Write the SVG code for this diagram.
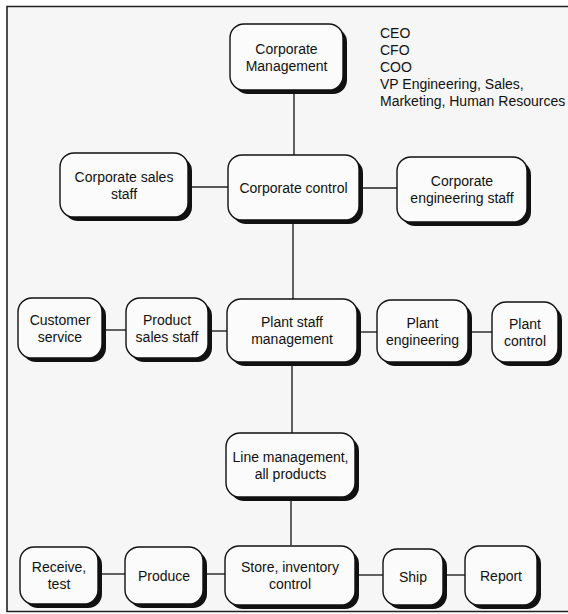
<svg xmlns="http://www.w3.org/2000/svg" width="568" height="614" viewBox="0 0 568 614">
<style>
.bg{fill:#f6f6f6}
.frame{fill:none;stroke:#222;stroke-width:1.6}
.sh{fill:#111}
.box{fill:#fbfbfb;stroke:#111;stroke-width:1.4}
.ln{stroke:#222;stroke-width:1.4;fill:none}
text{font-family:"Liberation Sans",Arial,sans-serif;font-size:14px;fill:#111}
.c{text-anchor:middle}
</style>
<rect x="0" y="0" width="568" height="614" fill="#ffffff"/>
<rect class="bg" x="7" y="6.5" width="561" height="605"/>
<path class="frame" d="M569 6.5 H7 V611.5 H569"/>
<g id="connectors">
<line class="ln" x1="294" y1="90" x2="294" y2="155"/>
<line class="ln" x1="188" y1="187" x2="228" y2="187"/>
<line class="ln" x1="359" y1="188" x2="397" y2="188"/>
<line class="ln" x1="293" y1="220" x2="293" y2="299"/>
<line class="ln" x1="102" y1="330" x2="126" y2="330"/>
<line class="ln" x1="208" y1="331" x2="227" y2="331"/>
<line class="ln" x1="357" y1="332" x2="377" y2="332"/>
<line class="ln" x1="468" y1="332" x2="492" y2="332"/>
<line class="ln" x1="292" y1="362" x2="292" y2="433"/>
<line class="ln" x1="291" y1="497" x2="291" y2="545"/>
<line class="ln" x1="98" y1="574" x2="125" y2="574"/>
<line class="ln" x1="203" y1="574" x2="225" y2="574"/>
<line class="ln" x1="355" y1="575" x2="383" y2="575"/>
<line class="ln" x1="443" y1="575" x2="465" y2="575"/>
</g>
<g id="corporate-management">
<rect class="sh" x="234" y="28" width="113" height="66" rx="14"/>
<rect class="box" x="230" y="24" width="113" height="66" rx="14"/>
<text class="c" x="286.5" y="53.5">Corporate</text>
<text class="c" x="286.5" y="70.5">Management</text>
</g>
<g id="officers">
<text x="380" y="38">CEO</text>
<text x="380" y="55">CFO</text>
<text x="380" y="72">COO</text>
<text x="380" y="89">VP Engineering, Sales,</text>
<text x="380" y="106">Marketing, Human Resources</text>
</g>
<g id="corporate-sales-staff">
<rect class="sh" x="64" y="157" width="128" height="64" rx="14"/>
<rect class="box" x="60" y="153" width="128" height="64" rx="14"/>
<text class="c" x="124" y="181.5">Corporate sales</text>
<text class="c" x="124" y="198.5">staff</text>
</g>
<g id="corporate-control">
<rect class="sh" x="232" y="159" width="131" height="65" rx="14"/>
<rect class="box" x="228" y="155" width="131" height="65" rx="14"/>
<text class="c" x="293.5" y="192.5">Corporate control</text>
</g>
<g id="corporate-engineering-staff">
<rect class="sh" x="401" y="161" width="130" height="65" rx="14"/>
<rect class="box" x="397" y="157" width="130" height="65" rx="14"/>
<text class="c" x="462" y="186">Corporate</text>
<text class="c" x="462" y="203">engineering staff</text>
</g>
<g id="customer-service">
<rect class="sh" x="22" y="302" width="84" height="60" rx="14"/>
<rect class="box" x="18" y="298" width="84" height="60" rx="14"/>
<text class="c" x="60" y="324.5">Customer</text>
<text class="c" x="60" y="341.5">service</text>
</g>
<g id="product-sales-staff">
<rect class="sh" x="130" y="302" width="82" height="60" rx="14"/>
<rect class="box" x="126" y="298" width="82" height="60" rx="14"/>
<text class="c" x="167" y="324.5">Product</text>
<text class="c" x="167" y="341.5">sales staff</text>
</g>
<g id="plant-staff-management">
<rect class="sh" x="231" y="303" width="130" height="63" rx="14"/>
<rect class="box" x="227" y="299" width="130" height="63" rx="14"/>
<text class="c" x="292" y="327">Plant staff</text>
<text class="c" x="292" y="344">management</text>
</g>
<g id="plant-engineering">
<rect class="sh" x="381" y="304" width="91" height="62" rx="14"/>
<rect class="box" x="377" y="300" width="91" height="62" rx="14"/>
<text class="c" x="422.5" y="327.5">Plant</text>
<text class="c" x="422.5" y="344.5">engineering</text>
</g>
<g id="plant-control">
<rect class="sh" x="496" y="306" width="66" height="60" rx="14"/>
<rect class="box" x="492" y="302" width="66" height="60" rx="14"/>
<text class="c" x="525" y="328.5">Plant</text>
<text class="c" x="525" y="345.5">control</text>
</g>
<g id="line-management">
<rect class="sh" x="230" y="437" width="129" height="64" rx="14"/>
<rect class="box" x="226" y="433" width="129" height="64" rx="14"/>
<text class="c" x="290.5" y="461.5">Line management,</text>
<text class="c" x="290.5" y="478.5">all products</text>
</g>
<g id="receive-test">
<rect class="sh" x="24" y="551" width="78" height="57" rx="14"/>
<rect class="box" x="20" y="547" width="78" height="57" rx="14"/>
<text class="c" x="59" y="572">Receive,</text>
<text class="c" x="59" y="589">test</text>
</g>
<g id="produce">
<rect class="sh" x="129" y="551" width="78" height="57" rx="14"/>
<rect class="box" x="125" y="547" width="78" height="57" rx="14"/>
<text class="c" x="164" y="580.5">Produce</text>
</g>
<g id="store-inventory-control">
<rect class="sh" x="229" y="550" width="130" height="59" rx="14"/>
<rect class="box" x="225" y="546" width="130" height="59" rx="14"/>
<text class="c" x="290" y="572">Store, inventory</text>
<text class="c" x="290" y="589">control</text>
</g>
<g id="ship">
<rect class="sh" x="387" y="553" width="60" height="56" rx="14"/>
<rect class="box" x="383" y="549" width="60" height="56" rx="14"/>
<text class="c" x="413" y="582">Ship</text>
</g>
<g id="report">
<rect class="sh" x="469" y="550" width="72" height="59" rx="14"/>
<rect class="box" x="465" y="546" width="72" height="59" rx="14"/>
<text class="c" x="501" y="580.5">Report</text>
</g>
</svg>
